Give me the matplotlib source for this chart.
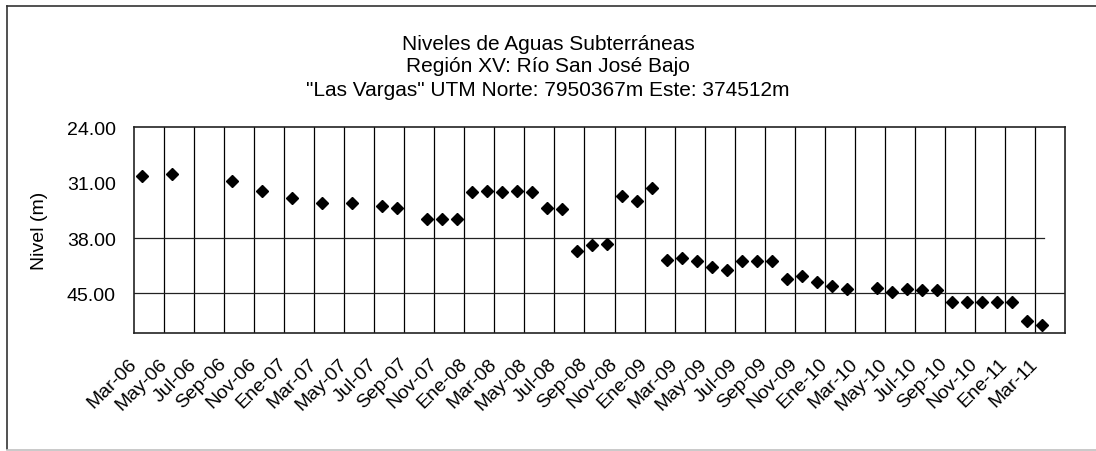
import matplotlib
matplotlib.use('Agg')
import matplotlib.pyplot as plt
from matplotlib.lines import Line2D

plt.rcParams['font.family'] = ['Liberation Sans', 'DejaVu Sans']

# Fechas de medición (año-mes) y nivel del agua (m)
fechas = ['2006-03', '2006-05', '2006-09', '2006-11',
          '2007-01', '2007-03', '2007-05', '2007-07', '2007-08', '2007-10', '2007-11', '2007-12',
          '2008-01', '2008-02', '2008-03', '2008-04', '2008-05', '2008-06', '2008-07', '2008-08',
          '2008-09', '2008-10', '2008-11', '2008-12',
          '2009-01', '2009-02', '2009-03', '2009-04', '2009-05', '2009-06', '2009-07', '2009-08',
          '2009-09', '2009-10', '2009-11', '2009-12',
          '2010-01', '2010-02', '2010-04', '2010-05', '2010-06', '2010-07', '2010-08', '2010-09',
          '2010-10', '2010-11', '2010-12',
          '2011-01', '2011-02', '2011-03']
niveles = [30.13, 29.92, 30.85, 32.11,
           32.94, 33.62, 33.62, 33.95, 34.16, 35.55, 35.55, 35.55,
           32.15, 32.11, 32.15, 32.11, 32.15, 34.20, 34.29, 39.62,
           38.82, 38.79, 32.69, 33.28,
           31.73, 40.80, 40.50, 40.88, 41.60, 42.01, 40.93, 40.93,
           40.84, 43.14, 42.85, 43.57,
           44.11, 44.40, 44.33, 44.83, 44.45, 44.62, 44.62, 46.04,
           46.04, 46.04, 46.04,
           46.04, 48.43, 48.99]

etiquetas_x = ['Mar-06', 'May-06', 'Jul-06', 'Sep-06', 'Nov-06',
               'Ene-07', 'Mar-07', 'May-07', 'Jul-07', 'Sep-07', 'Nov-07',
               'Ene-08', 'Mar-08', 'May-08', 'Jul-08', 'Sep-08', 'Nov-08',
               'Ene-09', 'Mar-09', 'May-09', 'Jul-09', 'Sep-09', 'Nov-09',
               'Ene-10', 'Mar-10', 'May-10', 'Jul-10', 'Sep-10', 'Nov-10',
               'Ene-11', 'Mar-11']
ticks_y = [24, 31, 38, 45]


def mes_indice(fecha):
    # meses transcurridos desde marzo 2006
    anio, mes = fecha.split('-')
    return (int(anio) - 2006) * 12 + (int(mes) - 3)


x = [mes_indice(f) + 0.5 for f in fechas]
pos_ticks = [2 * i for i in range(len(etiquetas_x))]

fig = plt.figure(figsize=(10.96, 4.52), dpi=100)
ax = fig.add_axes([0.1223, 0.2611, 0.8494, 0.4551])

# lineas verticales cada dos meses
for p in pos_ticks[1:]:
    ax.axvline(p, color='black', lw=0.9, zorder=1)
ax.axhline(45, color='#222222', lw=0.9, zorder=1)
ax.axhline(38, xmax=60.6 / 62, color='#222222', lw=0.9, zorder=1)

ax.plot(x, niveles, linestyle='none', marker='D', markersize=6,
        color='black', zorder=3)

ax.set_xlim(0, 62)
ax.set_ylim(50, 24)
ax.set_yticks(ticks_y)
ax.set_yticklabels(['%.2f' % t for t in ticks_y])
ax.set_xticks(pos_ticks)
ax.set_xticklabels(etiquetas_x, rotation=45, ha='right', va='center',
                   rotation_mode='anchor')
ax.tick_params(axis='both', length=0, labelsize=14)
ax.tick_params(axis='y', pad=13)
ax.tick_params(axis='x', pad=20)
for s in ax.spines.values():
    s.set_color('#222222')
    s.set_linewidth(1.2)

ax.set_ylabel('Nivel (m)', fontsize=14, labelpad=14)

fig.text(0.5, 1 - 44 / 452, 'Niveles de Aguas Subterráneas',
         ha='center', va='center', fontsize=15)
fig.text(0.5, 1 - 67 / 452, 'Región XV: Río San José Bajo',
         ha='center', va='center', fontsize=15)
fig.text(0.5, 1 - 90 / 452, '"Las Vargas" UTM Norte: 7950367m Este: 374512m',
         ha='center', va='center', fontsize=15)

# marco exterior del gráfico
W, H = 1096, 452
fig.add_artist(Line2D([7 / W, 7 / W], [1 - 7 / H, 1 - 450 / H], color='#333333', lw=1.2))
fig.add_artist(Line2D([7 / W, 1], [1 - 7 / H, 1 - 7 / H], color='#333333', lw=1.2))
fig.add_artist(Line2D([7 / W, 1], [1 - 450.5 / H, 1 - 450.5 / H], color='#c0c0c0', lw=1.2))

fig.savefig('out.png', dpi=100)
